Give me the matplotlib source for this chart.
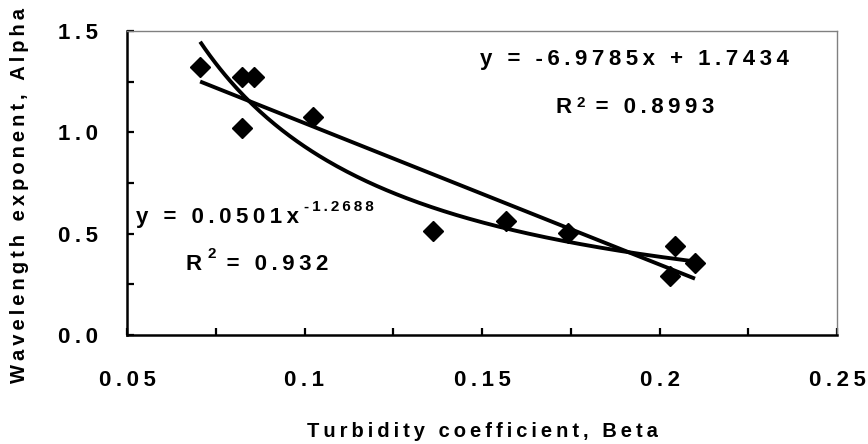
import numpy as np
import matplotlib
matplotlib.use("Agg")
import matplotlib.pyplot as plt
from matplotlib.ticker import FixedLocator

plt.rcParams['font.family'] = ['Liberation Sans', 'DejaVu Sans']
plt.rcParams['font.weight'] = 'bold'

# measured points (Beta, Alpha)
beta = [0.0706, 0.0823, 0.0858, 0.0823, 0.1025, 0.1363, 0.1568, 0.1743, 0.2044, 0.2030, 0.2100]
alpha = [1.324, 1.274, 1.274, 1.020, 1.074, 0.515, 0.564, 0.502, 0.441, 0.291, 0.354]

# trendline coefficients as printed on the chart
lin_slope, lin_icept, lin_r2 = -6.9785, 1.7434, "0.8993"
pow_coef, pow_exp, pow_r2 = 0.0501, -1.2688, "0.932"

x_ticks = [0.05, 0.1, 0.15, 0.2, 0.25]
x_labels = ["0.05", "0.1", "0.15", "0.2", "0.25"]
y_ticks = [0.0, 0.5, 1.0, 1.5]
y_labels = ["0.0", "0.5", "1.0", "1.5"]


def spaced(s):
    # Excel-ish letter spacing
    return "\u2009".join(s)


fig = plt.figure(figsize=(8.68, 4.44), dpi=100)
ax = fig.add_axes([127 / 868, 109 / 444, 710 / 868, 304 / 444])

xs = np.array(beta)
x0, x1 = xs.min(), xs.max()
ax.plot([x0, x1], [lin_slope * x0 + lin_icept, lin_slope * x1 + lin_icept],
        color='black', lw=2.8, solid_capstyle='butt', zorder=2)
xc = np.linspace(x0, x1, 200)
ax.plot(xc, pow_coef * xc ** pow_exp, color='black', lw=2.8,
        solid_capstyle='butt', zorder=2)
ax.plot(beta, alpha, linestyle='none', marker='D', markersize=10,
        color='black', zorder=3)

ax.set_xlim(0.05, 0.25)
ax.set_ylim(0.0, 1.5)
ax.xaxis.set_major_locator(FixedLocator(x_ticks))
ax.xaxis.set_minor_locator(FixedLocator(np.arange(0.075, 0.25, 0.05)))
ax.yaxis.set_major_locator(FixedLocator(y_ticks))
ax.yaxis.set_minor_locator(FixedLocator([0.25, 0.75, 1.25]))
ax.set_xticklabels([spaced(s) for s in x_labels])
ax.set_yticklabels([spaced(s) for s in y_labels])
ax.tick_params(which='both', direction='in', length=5, width=1.6,
               top=False, right=False)
ax.tick_params(axis='x', which='major', pad=25, labelsize=16)
ax.tick_params(axis='y', which='major', pad=21, labelsize=16)

for side in ['left', 'bottom']:
    ax.spines[side].set_linewidth(1.8)
    ax.spines[side].set_color('black')
for side in ['top', 'right']:
    ax.spines[side].set_linewidth(1.0)
    ax.spines[side].set_color('#808080')


def eq_text(x, y, base, sup, after=None, lift=1):
    t1 = ax.text(x, y, spaced(base), fontsize=16, fontweight='bold', va='baseline')
    t2 = ax.annotate(spaced(sup), xy=(1, 1), xycoords=t1, xytext=(4, lift),
                     textcoords='offset points', fontsize=11,
                     fontweight='bold', va='top')
    if after:
        ax.annotate(spaced(after), xy=(1, 0), xycoords=(t2, t1), xytext=(0, 0),
                    textcoords='offset points', fontsize=16,
                    fontweight='bold', va='bottom')


ax.text(0.1494, 1.332, spaced(f"y = {lin_slope}x + {lin_icept}"),
        fontsize=16, fontweight='bold', va='baseline')
eq_text(0.1706, 1.095, "R", "2", " = " + lin_r2, lift=1)
eq_text(0.0525, 0.553, f"y = {pow_coef}x", f"{pow_exp}", lift=5)
eq_text(0.0666, 0.321, "R", "2", " = " + pow_r2, lift=5)

fig.text(482 / 868, 1 - 431 / 444, spaced("Turbidity coefficient, Beta"),
         fontsize=14.5, fontweight='bold', ha='center', va='center')
fig.text(20 / 868, 1 - 195 / 444, spaced("Wavelength exponent, Alpha"),
         fontsize=14.5, fontweight='bold', ha='center', va='center', rotation=90)

fig.savefig("out.png", dpi=100)
